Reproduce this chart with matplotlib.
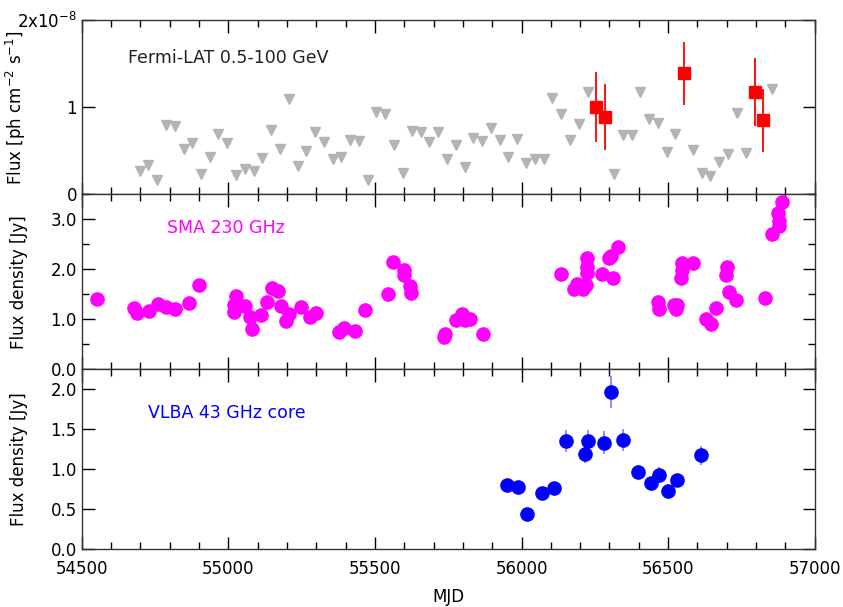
import numpy as np
import matplotlib
matplotlib.use("Agg")
import matplotlib.pyplot as plt
from matplotlib.ticker import MultipleLocator

# Fermi-LAT 0.5-100 GeV, flux in units of 1e-8 ph cm^-2 s^-1
lat_ul_mjd = [54698, 54727, 54758, 54789, 54818, 54848, 54877, 54907, 54937, 54966,
              54997, 55026, 55057, 55088, 55116, 55146, 55176, 55207, 55237, 55266,
              55296, 55326, 55356, 55385, 55416, 55446, 55475, 55504, 55535, 55565,
              55595, 55626, 55656, 55686, 55716, 55747, 55776, 55806, 55836, 55865,
              55896, 55925, 55955, 55986, 56015, 56046, 56076, 56105, 56135, 56165,
              56195, 56226, 56315, 56345, 56376, 56405, 56435, 56466, 56495, 56525,
              56584, 56614, 56644, 56675, 56704, 56735, 56765, 56854]
lat_ul_flux = [0.27, 0.34, 0.16, 0.80, 0.78, 0.52, 0.59, 0.23, 0.43, 0.69,
               0.59, 0.22, 0.29, 0.27, 0.42, 0.74, 0.52, 1.10, 0.33, 0.50,
               0.72, 0.60, 0.41, 0.43, 0.62, 0.61, 0.17, 0.95, 0.92, 0.57,
               0.24, 0.73, 0.72, 0.60, 0.72, 0.41, 0.57, 0.32, 0.65, 0.61,
               0.76, 0.62, 0.43, 0.63, 0.36, 0.41, 0.41, 1.11, 0.92, 0.62,
               0.81, 1.18, 0.23, 0.68, 0.68, 1.18, 0.87, 0.82, 0.49, 0.69,
               0.51, 0.24, 0.21, 0.37, 0.46, 0.93, 0.47, 1.21]
lat_det_mjd = [56254, 56285, 56554, 56795, 56825]
lat_det_flux = [1.00, 0.89, 1.39, 1.17, 0.85]
lat_det_err = [0.40, 0.38, 0.36, 0.39, 0.36]

# SMA 230 GHz, Jy
sma_mjd = [54552, 54677, 54689, 54728, 54759, 54787, 54819, 54865, 54901, 55026,
           55019, 55018, 55056, 55075, 55080, 55112, 55133, 55149, 55170, 55181,
           55208, 55197, 55249, 55279, 55300, 55377, 55393, 55431, 55467, 55545,
           55561, 55600, 55600, 55620, 55622, 55735, 55738, 55777, 55798, 55807,
           55825, 55870, 56136, 56179, 56190, 56211, 56219, 56224, 56225, 56222,
           56276, 56299, 56306, 56312, 56329, 56467, 56469, 56520, 56526, 56532,
           56546, 56546, 56544, 56586, 56628, 56646, 56663, 56702, 56696, 56708,
           56731, 56830, 56855, 56876, 56879, 56879, 56889]
sma_flux = [1.41, 1.23, 1.13, 1.17, 1.31, 1.25, 1.21, 1.33, 1.68, 1.46,
            1.29, 1.15, 1.26, 1.04, 0.81, 1.09, 1.35, 1.62, 1.57, 1.27,
            1.10, 0.96, 1.25, 1.05, 1.12, 0.74, 0.83, 0.76, 1.18, 1.51,
            2.14, 1.98, 1.88, 1.66, 1.53, 0.64, 0.70, 0.98, 1.10, 0.99,
            1.00, 0.70, 1.90, 1.60, 1.70, 1.60, 1.68, 2.22, 2.05, 1.93,
            1.90, 2.23, 2.27, 1.82, 2.45, 1.35, 1.21, 1.28, 1.21, 1.28,
            2.12, 1.98, 1.82, 2.12, 1.00, 0.91, 1.23, 2.05, 1.89, 1.54,
            1.39, 1.43, 2.70, 3.12, 2.97, 2.86, 3.35]

# VLBA 43 GHz core, Jy
vlba_mjd = [55952, 55989, 56018, 56071, 56111, 56151, 56218, 56227, 56280, 56304,
            56347, 56396, 56440, 56470, 56499, 56530, 56611]
vlba_flux = [0.80, 0.77, 0.44, 0.70, 0.76, 1.35, 1.19, 1.35, 1.33, 1.96,
             1.36, 0.96, 0.83, 0.93, 0.72, 0.86, 1.17]
vlba_err = [0.05, 0.05, 0.04, 0.05, 0.05, 0.14, 0.12, 0.14, 0.14, 0.20,
            0.14, 0.09, 0.07, 0.09, 0.07, 0.08, 0.12]

plt.rcParams["font.family"] = "DejaVu Sans"
plt.rcParams["font.size"] = 12


def style_axis(ax):
    ax.tick_params(which="both", direction="in", top=True, right=True, labelsize=12)
    ax.tick_params(which="major", length=9, width=1.0)
    ax.tick_params(which="minor", length=5, width=1.0)
    ax.tick_params(axis="x", pad=8)
    ax.xaxis.set_major_locator(MultipleLocator(500))
    ax.xaxis.set_minor_locator(MultipleLocator(100))
    for sp in ax.spines.values():
        sp.set_linewidth(1.0)
        sp.set_color("#333333")


fig, axes = plt.subplots(3, 1, figsize=(8.43, 6.07), dpi=100, sharex=True,
                         gridspec_kw={"height_ratios": [174.4, 174.6, 180]})
fig.subplots_adjust(left=0.097, right=0.9664, top=0.967, bottom=0.0956, hspace=0)
ax1, ax2, ax3 = axes

# top: Fermi-LAT
ax1.plot(lat_ul_mjd, lat_ul_flux, "v", color="#b4b4b4", ms=7, mec="#b4b4b4")
ax1.errorbar(lat_det_mjd, lat_det_flux, yerr=lat_det_err, fmt="s", color="red",
             ms=9, elinewidth=1.3, capsize=0)
ax1.set_ylim(0, 2)
ax1.set_yticks([0, 1, 2])
ax1.set_yticklabels(["0", "1", r"2x10$^{-8}$"])
ax1.set_ylabel(r"Flux [ph cm$^{-2}$ s$^{-1}$]", fontsize=12)
ax1.text(54656, 1.56, "Fermi-LAT 0.5-100 GeV", fontsize=12.5, color="#222222",
         va="center", ha="left")

# middle: SMA
ax2.plot(sma_mjd, sma_flux, "o", color="#ff00ff", ms=9.5, mec="#ff00ff")
ax2.set_ylim(0, 3.5)
ax2.yaxis.set_major_locator(MultipleLocator(1.0))
ax2.yaxis.set_minor_locator(MultipleLocator(0.5))
ax2.yaxis.set_major_formatter(plt.FormatStrFormatter("%.1f"))
ax2.set_ylabel("Flux density [Jy]", fontsize=12)
ax2.text(54792, 2.82, "SMA 230 GHz", fontsize=12.5, color="#ff00ff",
         va="center", ha="left")

# bottom: VLBA
ax3.errorbar(vlba_mjd, vlba_flux, yerr=vlba_err, fmt="o", color="#0000ff",
             ecolor="#7070ff", ms=9.5, elinewidth=1.1, capsize=0)
ax3.set_ylim(0, 2.25)
ax3.yaxis.set_major_locator(MultipleLocator(0.5))
ax3.yaxis.set_major_formatter(plt.FormatStrFormatter("%.1f"))
ax3.set_ylabel("Flux density [Jy]", fontsize=12)
ax3.text(54727, 1.7, "VLBA 43 GHz core", fontsize=12.5, color="#0000ff",
         va="center", ha="left")
ax3.set_xlim(54500, 57000)
ax3.set_xlabel("MJD", fontsize=12, labelpad=7)

for ax in axes:
    style_axis(ax)
    ax.yaxis.set_label_coords(-0.073, 0.5)

fig.savefig("out.png", dpi=100)
